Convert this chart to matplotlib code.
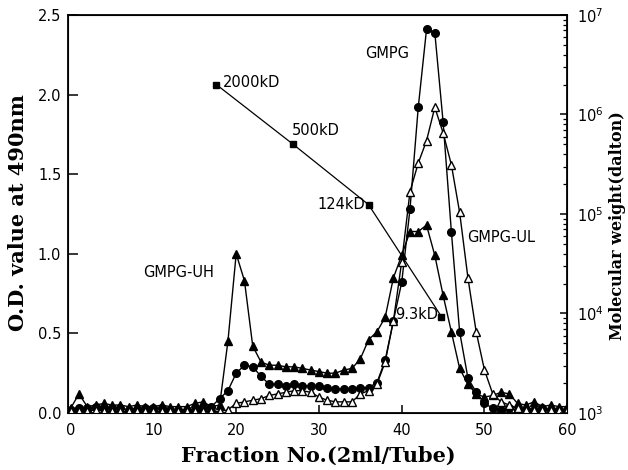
import numpy as np
import matplotlib
matplotlib.use('Agg')
import matplotlib.pyplot as plt

# fraction numbers 0..60
fraction = list(range(0, 61))

# GMPG (filled circles)
gmpg = [0.02, 0.03, 0.03, 0.04, 0.03, 0.03, 0.03, 0.02, 0.02, 0.03,
        0.03, 0.03, 0.02, 0.02, 0.02, 0.02, 0.03, 0.04, 0.09, 0.14,
        0.25, 0.30, 0.29, 0.23, 0.18, 0.18, 0.17, 0.18, 0.17, 0.17,
        0.17, 0.16, 0.15, 0.15, 0.15, 0.16, 0.16, 0.19, 0.33, 0.58,
        0.82, 1.28, 1.92, 2.41, 2.39, 1.83, 1.14, 0.51, 0.22, 0.13,
        0.06, 0.03, 0.02, 0.03, 0.02, 0.02, 0.02, 0.03, 0.02, 0.02,
        0.02]
# GMPG-UH (filled triangles)
gmpg_uh = [0.03, 0.12, 0.04, 0.05, 0.06, 0.05, 0.05, 0.04, 0.05, 0.04,
           0.04, 0.05, 0.04, 0.04, 0.04, 0.06, 0.07, 0.04, 0.05, 0.45,
           1.00, 0.83, 0.42, 0.32, 0.30, 0.30, 0.29, 0.29, 0.28, 0.27,
           0.26, 0.25, 0.25, 0.27, 0.28, 0.34, 0.46, 0.51, 0.60, 0.85,
           0.99, 1.14, 1.14, 1.18, 0.99, 0.74, 0.51, 0.28, 0.18, 0.12,
           0.10, 0.11, 0.13, 0.12, 0.06, 0.05, 0.07, 0.04, 0.05, 0.04,
           0.04]
# GMPG-UL (open triangles)
gmpg_ul = [0.01, 0.01, 0.01, 0.02, 0.01, 0.01, 0.01, 0.01, 0.01, 0.01,
           0.01, 0.01, 0.01, 0.01, 0.01, 0.01, 0.01, 0.01, 0.01, 0.02,
           0.06, 0.07, 0.08, 0.09, 0.11, 0.12, 0.13, 0.14, 0.14, 0.13,
           0.10, 0.08, 0.07, 0.07, 0.07, 0.12, 0.14, 0.18, 0.32, 0.58,
           0.95, 1.39, 1.57, 1.71, 1.92, 1.76, 1.56, 1.26, 0.85, 0.51,
           0.27, 0.12, 0.07, 0.05, 0.03, 0.02, 0.02, 0.02, 0.02, 0.02,
           0.02]

# molecular weight standards
std_fraction = [17.6, 26.9, 36.0, 44.8]
std_mw = [2.0e6, 5.0e5, 1.24e5, 9.3e3]
std_labels = ['2000kD', '500kD', '124kD', '9.3kD']

fig = plt.figure(figsize=(6.28, 4.70), dpi=100)
ax = fig.add_axes([0.1086, 0.1213, 0.7946, 0.8468])

ax.plot(fraction, gmpg_uh, '-^', color='k', lw=1.0, ms=5.5, mfc='k', mec='k', zorder=3)
ax.plot(fraction, gmpg, '-o', color='k', lw=1.0, ms=5.5, mfc='k', mec='k', zorder=4)
ax.plot(fraction, gmpg_ul, '-^', color='k', lw=1.0, ms=5.5, mfc='white', mec='k', mew=1.0, zorder=5)

ax.set_xlim(-0.3, 60)
ax.set_ylim(0, 2.5)
ax.set_xticks([0, 10, 20, 30, 40, 50, 60])
ax.set_yticks([0.0, 0.5, 1.0, 1.5, 2.0, 2.5])
ax.set_yticklabels(['0.0', '0.5', '1.0', '1.5', '2.0', '2.5'])
ax.tick_params(axis='both', direction='in', labelsize=10.5, width=1.1)
ax.tick_params(axis='x', length=6, pad=7, top=False)
ax.tick_params(axis='y', length=7, pad=5)
for s in ax.spines.values():
    s.set_linewidth(1.3)

txt = dict(fontsize=10.5, family='DejaVu Sans', zorder=1)
ax.text(35.6, 2.26, 'GMPG', ha='left', va='center', **txt)
ax.text(8.74, 0.88, 'GMPG-UH', ha='left', va='center', **txt)
ax.text(47.85, 1.10, 'GMPG-UL', ha='left', va='center', **txt)

# molecular weight axis
ax2 = ax.twinx()
ax2.set_yscale('log')
ax2.set_ylim(1e3, 1e7)
ax2.plot(std_fraction, std_mw, '-s', color='k', lw=0.9, ms=5, zorder=2)
ax2.text(18.4, 2.0e6 * 1.05, std_labels[0], ha='left', va='center', **txt)
ax2.text(26.7, 5.3e5 * 1.3, std_labels[1], ha='left', va='center', **txt)
ax2.text(35.6, 1.24e5, std_labels[2], ha='right', va='center', **txt)
ax2.text(44.4, 9.8e3, std_labels[3], ha='right', va='center', **txt)
ax2.tick_params(axis='y', which='major', direction='in', length=5, width=1.1, pad=7, labelsize=10.5)
ax2.tick_params(axis='y', which='minor', direction='in', length=3, width=0.9)
ax2.set_xlim(-0.3, 60)

fig.text(0.507, 0.030, 'Fraction No.(2ml/Tube)', ha='center', va='center',
         fontsize=15, fontweight='bold', family='DejaVu Serif')
fig.text(0.029, 0.547, 'O.D. value at 490nm', ha='center', va='center', rotation=90,
         fontsize=15, fontweight='bold', family='DejaVu Serif')
fig.text(0.983, 0.521, 'Molecular weight(dalton)', ha='center', va='center', rotation=90,
         fontsize=11.5, fontweight='bold', family='DejaVu Serif')

fig.savefig('out.png', dpi=100)
